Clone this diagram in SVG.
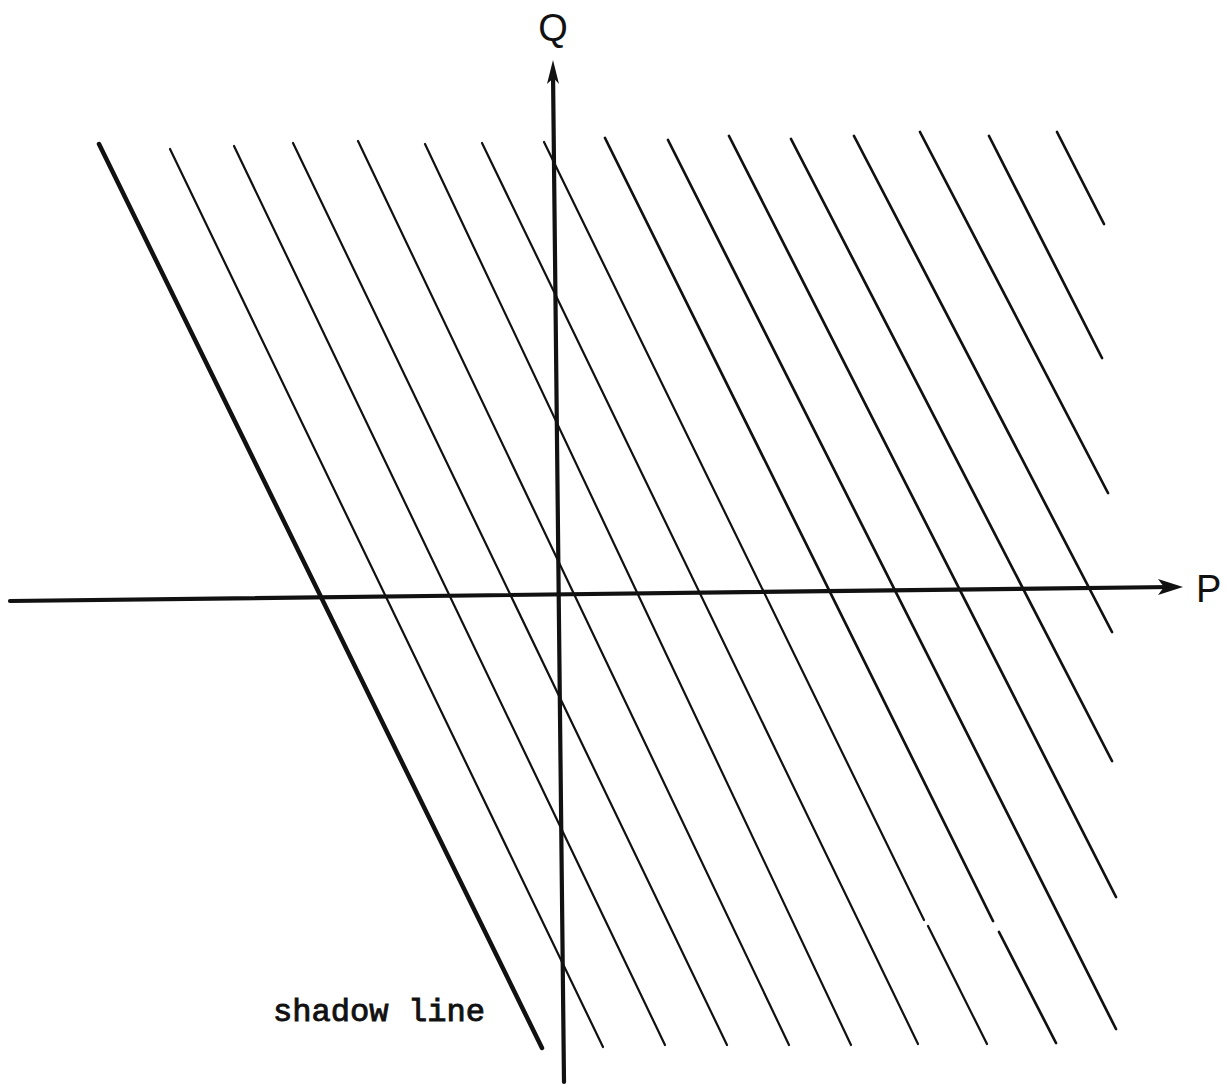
<svg xmlns="http://www.w3.org/2000/svg" width="1228" height="1086" viewBox="0 0 1228 1086">
  <style>
    .bg { fill: #ffffff; }
    .axis { stroke: #111; stroke-width: 4.2; fill: none; stroke-linecap: round; }
    .hatch { stroke: #111; stroke-width: 2.2; fill: none; stroke-linecap: round; }
    .hatch-r { stroke: #111; stroke-width: 2.7; fill: none; stroke-linecap: round; }
    .shadow { stroke: #111; stroke-width: 4.5; fill: none; stroke-linecap: round; }
    .arrow { fill: #111; stroke: none; }
    .axlabel { font-family: "Liberation Sans", Arial, sans-serif; font-size: 38px; fill: #111; }
    .note { font-family: "Liberation Mono", "Courier New", monospace; font-size: 31px; fill: #111; stroke: #111; stroke-width: 0.9; }
  </style>
  <rect class="bg" x="0" y="0" width="1228" height="1086"/>

  <g id="parallel-lines">
    <line id="shadow-line" class="shadow" x1="99" y1="144" x2="542" y2="1048"/>
    <line class="hatch" x1="170" y1="149" x2="603" y2="1047"/>
    <line class="hatch" x1="234" y1="146" x2="665" y2="1045"/>
    <line class="hatch" x1="293" y1="143" x2="727" y2="1045"/>
    <line class="hatch" x1="358" y1="141" x2="789" y2="1045"/>
    <line class="hatch" x1="425" y1="144" x2="851" y2="1045"/>
    <line class="hatch" x1="482" y1="143" x2="918" y2="1044"/>
    <line class="hatch" x1="544" y1="142" x2="924" y2="920"/>
    <line class="hatch" x1="928" y1="926" x2="987" y2="1044"/>
    <line class="hatch-r" x1="605" y1="138" x2="993" y2="921"/>
    <line class="hatch-r" x1="999" y1="932" x2="1056" y2="1043"/>
    <line class="hatch-r" x1="668" y1="140" x2="1116" y2="1029"/>
    <line class="hatch-r" x1="729" y1="136" x2="1116" y2="897"/>
    <line class="hatch-r" x1="791" y1="139" x2="1112" y2="761"/>
    <line class="hatch-r" x1="854" y1="136" x2="1112" y2="632"/>
    <line class="hatch-r" x1="920" y1="132" x2="1108" y2="493"/>
    <line class="hatch-r" x1="989" y1="136" x2="1102" y2="358"/>
    <line class="hatch-r" x1="1057" y1="132" x2="1104" y2="224"/>
  </g>

  <g id="axes">
    <g id="q-axis">
      <line class="axis" x1="553" y1="72" x2="564" y2="1082"/>
      <path class="arrow" d="M553,60 L559,84 L553.5,78 L547,84 Z"/>
    </g>
    <g id="p-axis">
      <line class="axis" x1="10" y1="601" x2="1172" y2="587"/>
      <path class="arrow" d="M1183,587 L1158,579 L1164,587 L1158,595 Z"/>
    </g>
  </g>

  <g id="labels">
    <text id="label-q" class="axlabel" x="553" y="41" text-anchor="middle">Q</text>
    <text id="label-p" class="axlabel" x="1196" y="602">P</text>
    <text id="label-shadow" class="note" x="273" y="1021" textLength="212" lengthAdjust="spacingAndGlyphs">shadow line</text>
  </g>
</svg>
